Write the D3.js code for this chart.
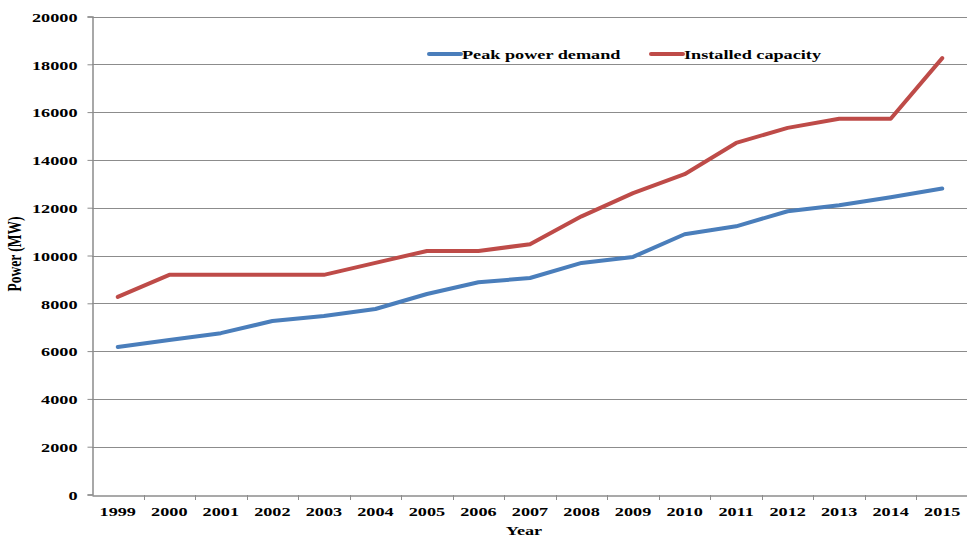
<!DOCTYPE html>
<html>
<head>
<meta charset="utf-8">
<script src="https://cdn.jsdelivr.net/npm/d3@7"></script>
<style>
  html, body { margin: 0; padding: 0; background: #fff; }
  svg { display: block; }
  text { font-family: "Liberation Serif", "Times New Roman", serif; font-weight: bold; fill: #000; }
</style>
</head>
<body>
<svg id="chart" width="967" height="540"></svg>
<script>
// Years on the horizontal axis
const years = ["1999","2000","2001","2002","2003","2004","2005","2006","2007","2008",
               "2009","2010","2011","2012","2013","2014","2015"];
// Peak power demand (MW)
const peakDemand = [6170, 6460, 6750, 7260, 7470, 7760, 8390, 8880, 9060, 9690,
                    9940, 10890, 11220, 11850, 12100, 12440, 12800];
// Installed capacity (MW)
const installedCapacity = [8270, 9190, 9190, 9190, 9190, 9690, 10190, 10190, 10470, 11640,
                           12610, 13400, 14710, 15340, 15720, 15720, 18260];
// Value-axis ticks
const yTicks = [0, 2000, 4000, 6000, 8000, 10000, 12000, 14000, 16000, 18000, 20000];

const seriesNames = ["Peak power demand", "Installed capacity"];
const seriesColors = ["#4a7ebb", "#be4b48"];

const svg = d3.select("#chart");
const W = 967, H = 540;
const x0 = 92, x1 = 968;     // plot area, left/right
const y0 = 495, y1 = 16;     // plot area, bottom/top
const SX = 1.35;             // horizontal stretch of the typography
const FONT = "13.5px";

const x = d3.scaleBand().domain(years).range([x0, x1]).paddingInner(0).paddingOuter(0);
const y = d3.scaleLinear().domain([0, 20000]).range([y0 - 0.5, y1 + 0.5]);

const gridColor = "#8c8c8c";

// Horizontal gridlines
svg.append("g")
  .selectAll("line")
  .data(yTicks.filter(v => v > 0))
  .join("line")
  .attr("x1", x0).attr("x2", x1)
  .attr("y1", d => Math.round(y(d)) + 0.5).attr("y2", d => Math.round(y(d)) + 0.5)
  .attr("stroke", gridColor).attr("stroke-width", 1);

// Value axis
const yAxis = svg.append("g")
  .attr("transform", `translate(${x0 + 0.5},0)`)
  .call(d3.axisLeft(y).tickValues(yTicks).tickSize(5).tickPadding(0).tickFormat(d3.format("d")));
yAxis.select(".domain").attr("stroke", gridColor).attr("stroke-width", 1.5);
yAxis.selectAll(".tick line").attr("stroke", gridColor);
yAxis.selectAll(".tick text")
  .attr("x", -15 / SX)
  .attr("dy", "0.36em")
  .attr("transform", `scale(${SX},1)`)
  .style("font-size", FONT)
  .style("font-family", "'Liberation Serif', serif")
  .style("font-weight", "bold")
  .attr("fill", "#000");

// Category axis
const xAxis = svg.append("g")
  .attr("transform", `translate(0,${y0 + 0.5})`)
  .call(d3.axisBottom(x).tickSize(0).tickPadding(0));
xAxis.select(".domain").attr("stroke", gridColor).attr("stroke-width", 1.5);
xAxis.selectAll(".tick")
  .attr("transform", d => `translate(${x(d) + x.bandwidth() / 2},0) scale(${SX},1)`);
xAxis.selectAll(".tick text")
  .attr("x", 0)
  .attr("y", 21)
  .attr("dy", 0)
  .style("font-size", FONT)
  .style("font-family", "'Liberation Serif', serif")
  .style("font-weight", "bold")
  .attr("fill", "#000");

// Tick marks at category boundaries
svg.append("g")
  .selectAll("line")
  .data(years.slice(1))
  .join("line")
  .attr("x1", d => Math.round(x(d)) + 0.5).attr("x2", d => Math.round(x(d)) + 0.5)
  .attr("y1", y0).attr("y2", y0 + 5)
  .attr("stroke", gridColor);

// Series lines
const line = d3.line()
  .x((d, i) => x(years[i]) + x.bandwidth() / 2)
  .y(d => y(d));

[peakDemand, installedCapacity].forEach((vals, i) => {
  svg.append("path")
    .datum(vals)
    .attr("d", line)
    .attr("fill", "none")
    .attr("stroke", seriesColors[i])
    .attr("stroke-width", 4)
    .attr("stroke-linejoin", "round")
    .attr("stroke-linecap", "round");
});

// Legend
const legendPos = [429, 651];
seriesNames.forEach((name, i) => {
  const g = svg.append("g").attr("transform", `translate(${legendPos[i]},54)`);
  g.append("line").attr("x1", 0).attr("x2", 32).attr("y1", 0).attr("y2", 0)
    .attr("stroke", seriesColors[i]).attr("stroke-width", 4).attr("stroke-linecap", "round");
  g.append("text")
    .attr("transform", `translate(33,0) scale(${SX},1)`)
    .attr("dy", "0.34em")
    .style("font-size", FONT)
    .text(name);
});

// Axis titles
svg.append("text")
  .attr("transform", `translate(${x0 + (x1 - x0) / 2 - 6},535) scale(${SX},1)`)
  .attr("text-anchor", "middle")
  .style("font-size", FONT)
  .text("Year");

svg.append("text")
  .attr("transform", `translate(21,254) rotate(-90) scale(1,${SX})`)
  .attr("text-anchor", "middle")
  .style("font-size", FONT)
  .text("Power (MW)");
</script>
</body>
</html>
